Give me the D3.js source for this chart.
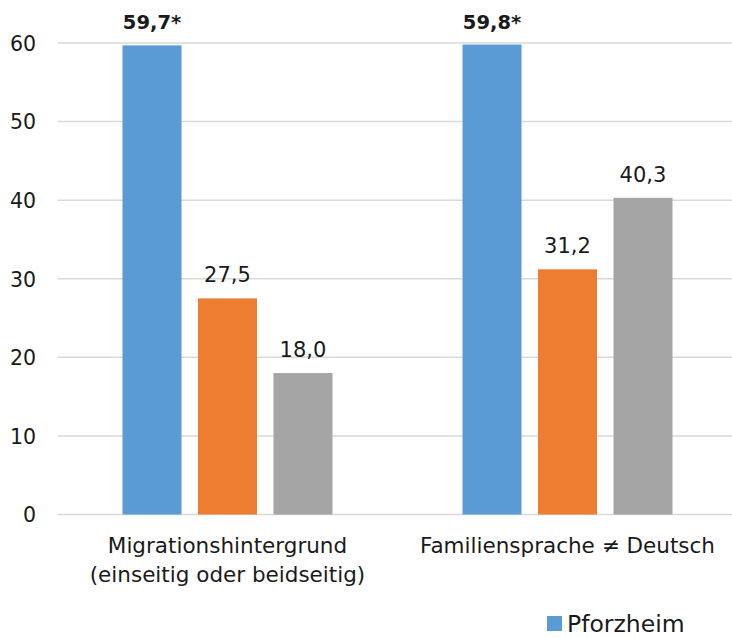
<!DOCTYPE html>
<html>
<head>
<meta charset="utf-8">
<script src="https://cdn.jsdelivr.net/npm/d3@7"></script>
<style>
  html, body { margin: 0; padding: 0; background: #fff; }
  svg { display: block; }
  text { font-family: "DejaVu Sans", sans-serif; fill: #1a1a1a; }
</style>
</head>
<body>
<svg id="chart" width="732" height="638"></svg>
<script>
// Category labels (multi-line) and series
const categories = ["Migrationshintergrund\n(einseitig oder beidseitig)", "Familiensprache ≠ Deutsch"];
const seriesNames = ["Pforzheim", "Serie 2", "Serie 3"];
const seriesColors = ["#5B9BD5", "#ED7D31", "#A5A5A5"];
const pforzheim = [59.7, 59.8];
const serie2 = [27.5, 31.2];
const serie3 = [18.0, 40.3];
const valueLabels = [["59,7*", "59,8*"], ["27,5", "31,2"], ["18,0", "40,3"]];
const yTicks = [0, 10, 20, 30, 40, 50, 60];

const seriesValues = [pforzheim, serie2, serie3];

const svg = d3.select("#chart");
const margin = { left: 57.5, right: -5.5, top: 43, bottom: 123.5 };
const W = 732, H = 638;
const plotW = W - margin.left - margin.right;
const plotH = H - margin.top - margin.bottom;

const x0 = d3.scaleBand().domain(d3.range(categories.length))
  .range([margin.left, margin.left + plotW]).paddingInner(0).paddingOuter(0);
const groupPad = 65;
const x1 = d3.scaleBand().domain(d3.range(seriesNames.length))
  .range([groupPad, x0.bandwidth() - groupPad]).paddingInner(0.2185).paddingOuter(0);
const y = d3.scaleLinear().domain([0, 60]).range([margin.top + plotH, margin.top]);

// Gridlines
svg.append("g").selectAll("line").data(yTicks).join("line")
  .attr("x1", margin.left).attr("x2", W)
  .attr("y1", d => y(d)).attr("y2", d => y(d))
  .attr("stroke", "#D9D9D9").attr("stroke-width", 1.5);

// Y axis tick labels
const yAxis = d3.axisLeft(y).tickValues(yTicks).tickSize(0).tickPadding(0);
const gy = svg.append("g").attr("transform", `translate(36,0)`).call(yAxis);
gy.select(".domain").remove();
gy.selectAll("text").attr("font-size", 20.5).attr("dy", "0.36em")
  .style("font-family", "'DejaVu Sans', sans-serif").attr("fill", "#1a1a1a");

// Bars with value labels
seriesValues.forEach((vals, s) => {
  const g = svg.append("g");
  g.selectAll("rect").data(vals).join("rect")
    .attr("x", (d, i) => x0(i) + x1(s))
    .attr("width", x1.bandwidth())
    .attr("y", d => y(d))
    .attr("height", d => y(0) - y(d))
    .attr("fill", seriesColors[s]);
  g.selectAll("text").data(vals).join("text")
    .attr("x", (d, i) => x0(i) + x1(s) + x1.bandwidth() / 2)
    .attr("y", d => y(d) - 16)
    .attr("text-anchor", "middle")
    .attr("font-size", s === 0 ? 19.5 : 21)
    .attr("font-weight", s === 0 ? "bold" : "normal")
    .text((d, i) => valueLabels[s][i]);
});

// Category labels
categories.forEach((c, i) => {
  const t = svg.append("text")
    .attr("x", x0(i) + x0.bandwidth() / 2)
    .attr("y", 553)
    .attr("text-anchor", "middle")
    .attr("font-size", 21.5);
  c.split("\n").forEach((line, k) => {
    t.append("tspan").attr("x", x0(i) + x0.bandwidth() / 2)
      .attr("dy", k === 0 ? 0 : 29).text(line);
  });
});

// Legend (first series)
const lg = svg.append("g").attr("transform", "translate(547,616)");
lg.append("rect").attr("width", 15).attr("height", 15).attr("fill", seriesColors[0]);
lg.append("text").attr("x", 20).attr("y", 16).attr("font-size", 23.5).text(seriesNames[0]);
</script>
</body>
</html>
